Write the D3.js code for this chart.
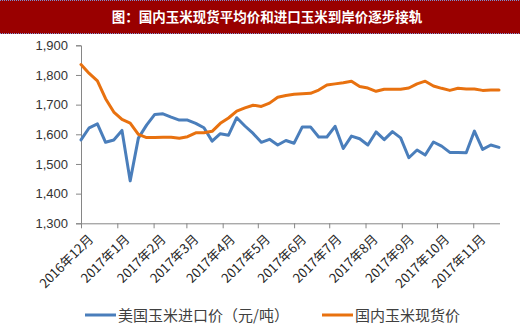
<!DOCTYPE html>
<html><head><meta charset="utf-8">
<script src="https://cdn.jsdelivr.net/npm/d3@7"></script>
<style>
html,body{margin:0;padding:0;background:#fff;}
svg{display:block;}
</style></head>
<body>
<svg id="c" width="520" height="336"></svg>
<script>
const title = "图：国内玉米现货平均价和进口玉米到岸价逐步接轨";
const dates = [
 "2016-12-01","2016-12-08","2016-12-15","2016-12-22","2016-12-29",
 "2017-01-05","2017-01-12","2017-01-19","2017-01-26",
 "2017-02-02","2017-02-09","2017-02-16","2017-02-23",
 "2017-03-02","2017-03-09","2017-03-16","2017-03-23","2017-03-30",
 "2017-04-06","2017-04-13","2017-04-20","2017-04-27",
 "2017-05-04","2017-05-11","2017-05-18","2017-05-25",
 "2017-06-01","2017-06-08","2017-06-15","2017-06-22","2017-06-29",
 "2017-07-06","2017-07-13","2017-07-20","2017-07-27",
 "2017-08-03","2017-08-10","2017-08-17","2017-08-24","2017-08-31",
 "2017-09-07","2017-09-14","2017-09-21","2017-09-28",
 "2017-10-05","2017-10-12","2017-10-19","2017-10-26",
 "2017-11-02","2017-11-09","2017-11-16","2017-11-23"];
const importPrice = [1581,1622,1635,1573,1581,1613,1443,1587,1631,1667,1669,1658,1648,1648,1637,1622,1577,1602,1597,1656,1628,1603,1573,1583,1564,1579,1570,1625,1625,1591,1591,1627,1552,1594,1585,1564,1608,1582,1609,1588,1521,1547,1530,1574,1560,1539,1539,1538,1611,1549,1564,1556];
const domesticPrice = [1835,1805,1780,1720,1675,1650,1638,1600,1589,1589,1590,1590,1587,1592,1605,1605,1610,1637,1655,1678,1689,1698,1694,1705,1725,1731,1735,1737,1738,1749,1766,1770,1774,1779,1761,1756,1745,1752,1752,1752,1756,1770,1779,1763,1755,1748,1755,1753,1753,1748,1749,1749];
const monthTicks = ["2016-12-01","2017-01-01","2017-02-01","2017-03-01","2017-04-01","2017-05-01","2017-06-01","2017-07-01","2017-08-01","2017-09-01","2017-10-01","2017-11-01"];
const monthLabels = ["2016年12月","2017年1月","2017年2月","2017年3月","2017年4月","2017年5月","2017年6月","2017年7月","2017年8月","2017年9月","2017年10月","2017年11月"];
const yTicks = [1300,1400,1500,1600,1700,1800,1900];
const seriesNames = ["美国玉米进口价（元/吨）","国内玉米现货价"];
const colors = ["#4A7EBB","#E8710F"];

(function(){
const parse = d3.timeParse("%Y-%m-%d");
const svg = d3.select("#c");
const W = 520;
const pL = 81, pR = 499, pT = 45.3, pB = 223.3;

// title bar
svg.append("rect").attr("x",0).attr("y",0).attr("width",W).attr("height",34).attr("fill","#990000");
svg.append("line").attr("x1",0).attr("x2",W).attr("y1",0.5).attr("y2",0.5)
  .attr("stroke","#7f8fd0").attr("stroke-dasharray","1,1");
svg.append("line").attr("x1",0).attr("x2",W).attr("y1",33.5).attr("y2",33.5)
  .attr("stroke","#7f8fd0").attr("stroke-dasharray","1,1");
svg.append("text").attr("x",267).attr("y",22).attr("text-anchor","middle")
  .attr("fill","#fff").attr("font-family","'Noto Sans CJK SC'").attr("font-weight","bold")
  .attr("font-size","13.5px").text(title);

const pd = dates.map(parse);
const x = d3.scaleTime().domain([pd[0], pd[pd.length-1]]).range([pL,pR]);
const y = d3.scaleLinear().domain([1300,1900]).range([pB,pT]);

// y axis
const yAxis = d3.axisLeft(y).tickValues(yTicks).tickSize(5).tickPadding(8).tickFormat(d3.format(","));
const gy = svg.append("g").attr("transform",`translate(${pL},0)`).call(yAxis);
gy.selectAll("path,line").attr("stroke","#868686");
gy.selectAll("text").attr("font-family","'Liberation Sans', Arial, sans-serif").attr("font-size","13px").attr("fill","#333");

// x axis
const xAxis = d3.axisBottom(x).tickValues(monthTicks.map(parse)).tickSize(5).tickSizeOuter(0)
  .tickFormat((d,i)=>monthLabels[i]);
const gx = svg.append("g").attr("transform",`translate(0,${pB})`).call(xAxis);
gx.select("path.domain").attr("d",`M${pL},0.5H${pR+1}`);
gx.selectAll("path,line").attr("stroke","#868686");
gx.selectAll("text").attr("font-family","'Noto Sans CJK SC', sans-serif").attr("font-size","13px").attr("fill","#262626")
  .attr("text-anchor","end").attr("dy","0").attr("dx","0")
  .attr("transform","translate(7,11) rotate(-45)");

// lines
const series = [importPrice, domesticPrice];
series.forEach((vals,si)=>{
  const line = d3.line().x((d,i)=>x(pd[i])).y(d=>y(d));
  svg.append("path").datum(vals).attr("d",line).attr("fill","none")
    .attr("stroke",colors[si]).attr("stroke-width",3).attr("stroke-linejoin","round").attr("stroke-linecap","round");
});

// legend
const lg = [{x:85,w:31,tx:118},{x:322,w:31,tx:355}];
seriesNames.forEach((n,i)=>{
  svg.append("line").attr("x1",lg[i].x).attr("x2",lg[i].x+lg[i].w).attr("y1",315).attr("y2",315)
    .attr("stroke",colors[i]).attr("stroke-width",3);
  svg.append("text").attr("x",lg[i].tx).attr("y",320.5).attr("font-family","'Noto Sans CJK SC', sans-serif")
    .attr("font-size","15px").attr("fill","#404040").text(n);
});
})();
</script>
</body></html>
